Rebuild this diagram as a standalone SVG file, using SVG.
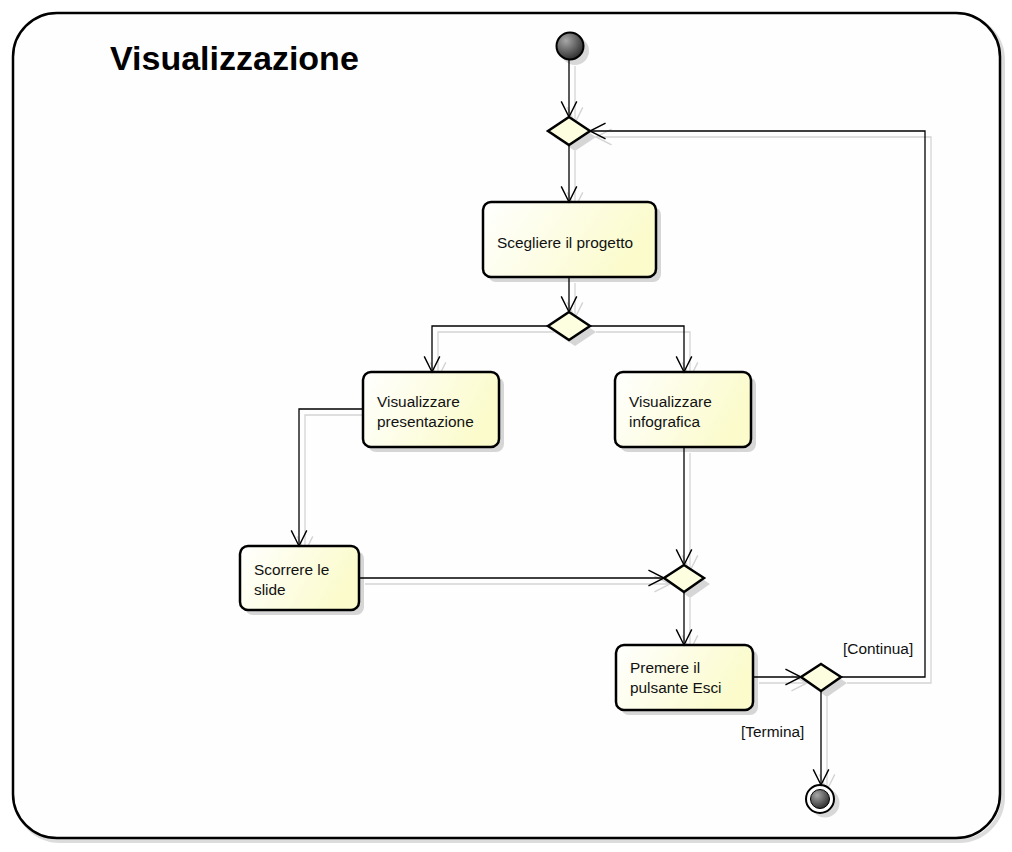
<svg xmlns="http://www.w3.org/2000/svg" width="1012" height="852" viewBox="0 0 1012 852">
<defs>
<style>
.frame{fill:#fefefe;stroke:#000;stroke-width:2.5}
.fshadow{fill:none;stroke:#dcdcdc;stroke-width:4}
.box{fill:url(#boxg);stroke:#000;stroke-width:2.5}
.shadow{fill:#d6d6d6}
.dia{fill:#fdfde0;stroke:#000;stroke-width:2.5}
.lbl{font-family:"Liberation Sans",Arial,sans-serif;font-size:15.4px;fill:#111}
.title{font-family:"Liberation Sans",Arial,sans-serif;font-size:34px;font-weight:bold;fill:#000}
.edge{fill:none;stroke:#000;stroke-width:1.3;marker-end:url(#arr)}
.sedge{fill:none;stroke:#d4d4d4;stroke-width:1.3;marker-end:url(#sarr)}
</style>
<linearGradient id="boxg" x1="0" y1="0" x2="1" y2="0.3">
<stop offset="0" stop-color="#ffffff"/>
<stop offset="1" stop-color="#fbfbcc"/>
</linearGradient>
<radialGradient id="ball" cx="0.35" cy="0.3" r="0.75">
<stop offset="0" stop-color="#a8a8a8"/>
<stop offset="1" stop-color="#2a2a2a"/>
</radialGradient>
<marker id="arr" markerUnits="userSpaceOnUse" markerWidth="20" markerHeight="20" viewBox="-16 -9 18 18" refX="0" refY="0" orient="auto">
<path d="M-14,-7 L0,0 L-14,7" fill="none" stroke="#000" stroke-width="1.3"/>
</marker>
<marker id="sarr" markerUnits="userSpaceOnUse" markerWidth="20" markerHeight="20" viewBox="-16 -9 18 18" refX="0" refY="0" orient="auto">
<path d="M-14,-7 L0,0 L-14,7" fill="none" stroke="#d4d4d4" stroke-width="1.3"/>
</marker>
</defs>
<rect x="0" y="0" width="1012" height="852" fill="#ffffff"/>
<g id="frame">
<rect class="fshadow" x="16" y="16" width="987" height="825" rx="44"/>
<rect class="frame" x="13" y="13" width="987" height="825" rx="44"/>
<text class="title" x="110" y="70">Visualizzazione</text>
</g>
<g id="connector-shadows" transform="translate(6,6)">
<path class="sedge" d="M569,60 V117"/>
<path class="sedge" d="M569,145 V202"/>
<path class="sedge" d="M569,277 V312"/>
<path class="sedge" d="M548,326 H432 V372"/>
<path class="sedge" d="M590,326 H684 V372"/>
<path class="sedge" d="M363,409 H299 V546"/>
<path class="sedge" d="M684,447 V565"/>
<path class="sedge" d="M359,578 H664"/>
<path class="sedge" d="M684,592 V645"/>
<path class="sedge" d="M753,677 H801"/>
<path class="sedge" d="M841,677 H925 V131 H590"/>
<path class="sedge" d="M821,691 V784"/>
</g>
<g id="start">
<circle cx="575" cy="51" r="14" fill="#d8d8d8"/>
<circle cx="570" cy="46" r="13.5" fill="url(#ball)" stroke="#000" stroke-width="2"/>
</g>
<g id="decision1">
<path class="shadow" d="M575,123 L596,137 L575,151 L554,137 Z"/>
<path class="dia" d="M569,117 L590,131 L569,145 L548,131 Z"/>
</g>
<g id="scegliere">
<rect class="shadow" x="488" y="207" width="173" height="75" rx="8"/>
<rect class="box" x="483" y="202" width="173" height="75" rx="8"/>
<text class="lbl" x="497" y="248">Scegliere il progetto</text>
</g>
<g id="decision2">
<path class="shadow" d="M575,318 L596,332 L575,346 L554,332 Z"/>
<path class="dia" d="M569,312 L590,326 L569,340 L548,326 Z"/>
</g>
<g id="presentazione">
<rect class="shadow" x="368" y="377" width="136" height="75" rx="8"/>
<rect class="box" x="363" y="372" width="136" height="75" rx="8"/>
<text class="lbl" x="377" y="407">Visualizzare</text>
<text class="lbl" x="377" y="427">presentazione</text>
</g>
<g id="infografica">
<rect class="shadow" x="620" y="377" width="136" height="75" rx="8"/>
<rect class="box" x="615" y="372" width="136" height="75" rx="8"/>
<text class="lbl" x="629" y="407">Visualizzare</text>
<text class="lbl" x="629" y="427">infografica</text>
</g>
<g id="scorrere">
<rect class="shadow" x="245" y="551" width="119" height="64" rx="8"/>
<rect class="box" x="240" y="546" width="119" height="64" rx="8"/>
<text class="lbl" x="254" y="575">Scorrere le</text>
<text class="lbl" x="254" y="595">slide</text>
</g>
<g id="merge">
<path class="shadow" d="M690,571 L710,584 L690,598 L670,584 Z"/>
<path class="dia" d="M684,565 L704,578 L684,592 L664,578 Z"/>
</g>
<g id="premere">
<rect class="shadow" x="621" y="650" width="137" height="65" rx="8"/>
<rect class="box" x="616" y="645" width="137" height="65" rx="8"/>
<text class="lbl" x="630" y="673">Premere il</text>
<text class="lbl" x="630" y="693">pulsante Esci</text>
</g>
<g id="decision4">
<path class="shadow" d="M827,670 L847,683 L827,697 L807,683 Z"/>
<path class="dia" d="M821,664 L841,677 L821,691 L801,677 Z"/>
</g>
<g id="final">
<circle cx="825" cy="803" r="14.5" fill="#d8d8d8"/>
<circle cx="820" cy="799" r="14" fill="#fff" stroke="#000" stroke-width="2"/>
<circle cx="820" cy="799" r="9.5" fill="url(#ball)" stroke="#000" stroke-width="1"/>
</g>
<g id="connectors">
<path class="edge" d="M569,60 V117"/>
<path class="edge" d="M569,145 V202"/>
<path class="edge" d="M569,277 V312"/>
<path class="edge" d="M548,326 H432 V372"/>
<path class="edge" d="M590,326 H684 V372"/>
<path class="edge" d="M363,409 H299 V546"/>
<path class="edge" d="M684,447 V565"/>
<path class="edge" d="M359,578 H664"/>
<path class="edge" d="M684,592 V645"/>
<path class="edge" d="M753,677 H801"/>
<path class="edge" d="M841,677 H925 V131 H590"/>
<path class="edge" d="M821,691 V785"/>
<text class="lbl" x="843" y="654">[Continua]</text>
<text class="lbl" x="741" y="737">[Termina]</text>
</g>
</svg>
